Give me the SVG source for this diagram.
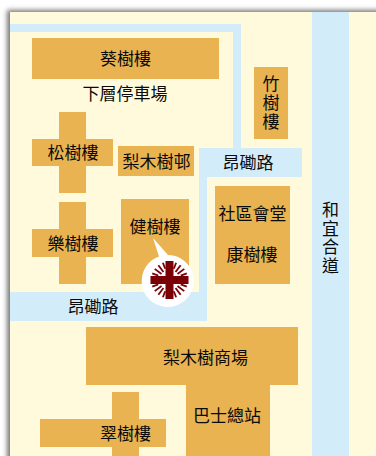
<svg xmlns="http://www.w3.org/2000/svg" width="376" height="456" viewBox="0 0 376 456">
<defs>
<filter id="sh" x="-5%" y="-5%" width="110%" height="110%"><feGaussianBlur stdDeviation="2.500"/></filter>
<g id="fan" stroke="#7a0008" stroke-width="1.800" fill="none">
<path d="M0 -12V-18.500" transform="rotate(-21)"/>
<path d="M0 -10V-18.500" transform="rotate(-37)"/>
<path d="M0 -10V-18.500" transform="rotate(-53)"/>
<path d="M0 -12V-18.500" transform="rotate(-69)"/>
</g>
</defs>
<style>
.b{fill:#e8b350}
.r{fill:#d3ecfa}
.c{fill:#fffadc}
text{font-family:"Noto Sans CJK TC","Noto Sans CJK SC",sans-serif;font-size:17px;fill:#0a0a0a;text-anchor:middle}
.m{fill:#7a0008}
</style>
<rect width="376" height="456" fill="#fff"/>
<rect x="7" y="10" width="380" height="460" fill="#777" filter="url(#sh)"/>
<rect class="c" x="10" y="12" width="366" height="444"/>
<g id="roads">
<path class="r" d="M10 24H241V148H302V177H207V321H10V292H199V148H233V32H10Z"/>
<rect class="r" x="312" y="12" width="37" height="444"/>
</g>
<g id="kwai"><rect class="b" x="32" y="38" width="187" height="41"/><text x="125.500" y="65">葵樹樓</text></g>
<text id="parking" x="125" y="100">下層停車場</text>
<g id="chung"><path class="b" d="M59 112H86V139H113V166H86V193H59V166H32V139H59Z"/><text x="73" y="159">松樹樓</text></g>
<g id="estate"><rect class="b" x="118" y="146" width="76" height="30"/><text x="156.500" y="168">梨木樹邨</text></g>
<g id="lok"><path class="b" d="M59 202H86V229H113V257H86V284H59V257H32V229H59Z"/><text x="73" y="250">樂樹樓</text></g>
<g id="kin"><rect class="b" x="121" y="199" width="68" height="85"/><text x="155" y="233">健樹樓</text></g>
<g id="chuk"><rect class="b" x="254" y="67" width="34" height="72"/><text x="271" y="90">竹<tspan x="271" dy="19">樹</tspan><tspan x="271" dy="19">樓</tspan></text></g>
<g id="community"><rect class="b" x="215" y="186" width="75" height="98"/><text x="252.500" y="220">社區會堂</text><text x="252" y="261">康樹樓</text></g>
<g id="mall"><rect class="b" x="86" y="327" width="212" height="58"/><text x="205.500" y="364">梨木樹商場</text></g>
<g id="bus"><rect class="b" x="186" y="385" width="84" height="71"/><text x="227" y="422">巴士總站</text></g>
<g id="tsui"><path class="b" d="M112 392H139V419H166V447H139V456H112V447H40V419H112Z"/><text x="125.500" y="440">翠樹樓</text></g>
<text id="road1" x="248" y="168.500">昂磡路</text>
<text id="road2" x="93" y="313">昂磡路</text>
<text id="road3" x="330.500" y="216">和<tspan x="330.500" dy="19">宜</tspan><tspan x="330.500" dy="18">合</tspan><tspan x="330.500" dy="19">道</tspan></text>
<g id="marker">
<path fill="#fff" d="M153 238L168 255A26 26 0 1 1 159 256.500Z"/>
<use href="#fan" transform="translate(169.500 280)"/>
<use href="#fan" transform="translate(169.500 280) rotate(90)"/>
<use href="#fan" transform="translate(169.500 280) rotate(180)"/>
<use href="#fan" transform="translate(169.500 280) rotate(270)"/>
<rect class="m" x="165.500" y="261" width="8" height="38"/>
<rect class="m" x="150.500" y="276" width="38" height="8"/>
</g>
</svg>
